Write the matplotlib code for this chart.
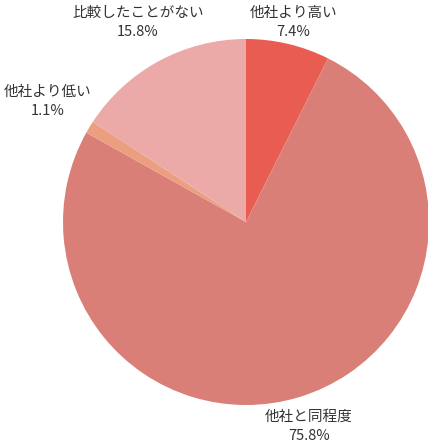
import matplotlib
matplotlib.use("Agg")
import matplotlib.pyplot as plt
import numpy as np

plt.rcParams['font.family'] = ['Noto Sans CJK JP', 'DejaVu Sans']

labels = ['他社より高い', '他社と同程度', '他社より低い', '比較したことがない']
values = [7.4, 75.8, 1.1, 15.8]
colors = ['#e85c52', '#d97f78', '#eb9f80', '#ebaaa7']

W, H = 428, 444
fig = plt.figure(figsize=(W / 100, H / 100), dpi=100)

cx, cy, r = 246, 222, 183
ax = fig.add_axes([(cx - r) / W, (cy - r) / H, 2 * r / W, 2 * r / H])
ax.pie(values, colors=colors, startangle=90, counterclock=False,
       radius=1, wedgeprops=dict(linewidth=0))
ax.set_xlim(-1, 1)
ax.set_ylim(-1, 1)
ax.set_aspect('equal')
ax.axis('off')

# label distance from centre (relative to radius), per slice
dist = [1.12, 1.17, 1.27, 1.24]
total = sum(values)
start = 90.0
for lab, v, d in zip(labels, values, dist):
    mid = start - v / total * 360 / 2
    start -= v / total * 360
    a = np.deg2rad(mid)
    x, y = d * np.cos(a), d * np.sin(a)
    ax.text(x, y, f'{lab}\n{v:.1f}%', ha='center', va='center',
            fontsize=10.5, color='#333333', linespacing=1.5, clip_on=False)

fig.savefig('out.png', dpi=100)
